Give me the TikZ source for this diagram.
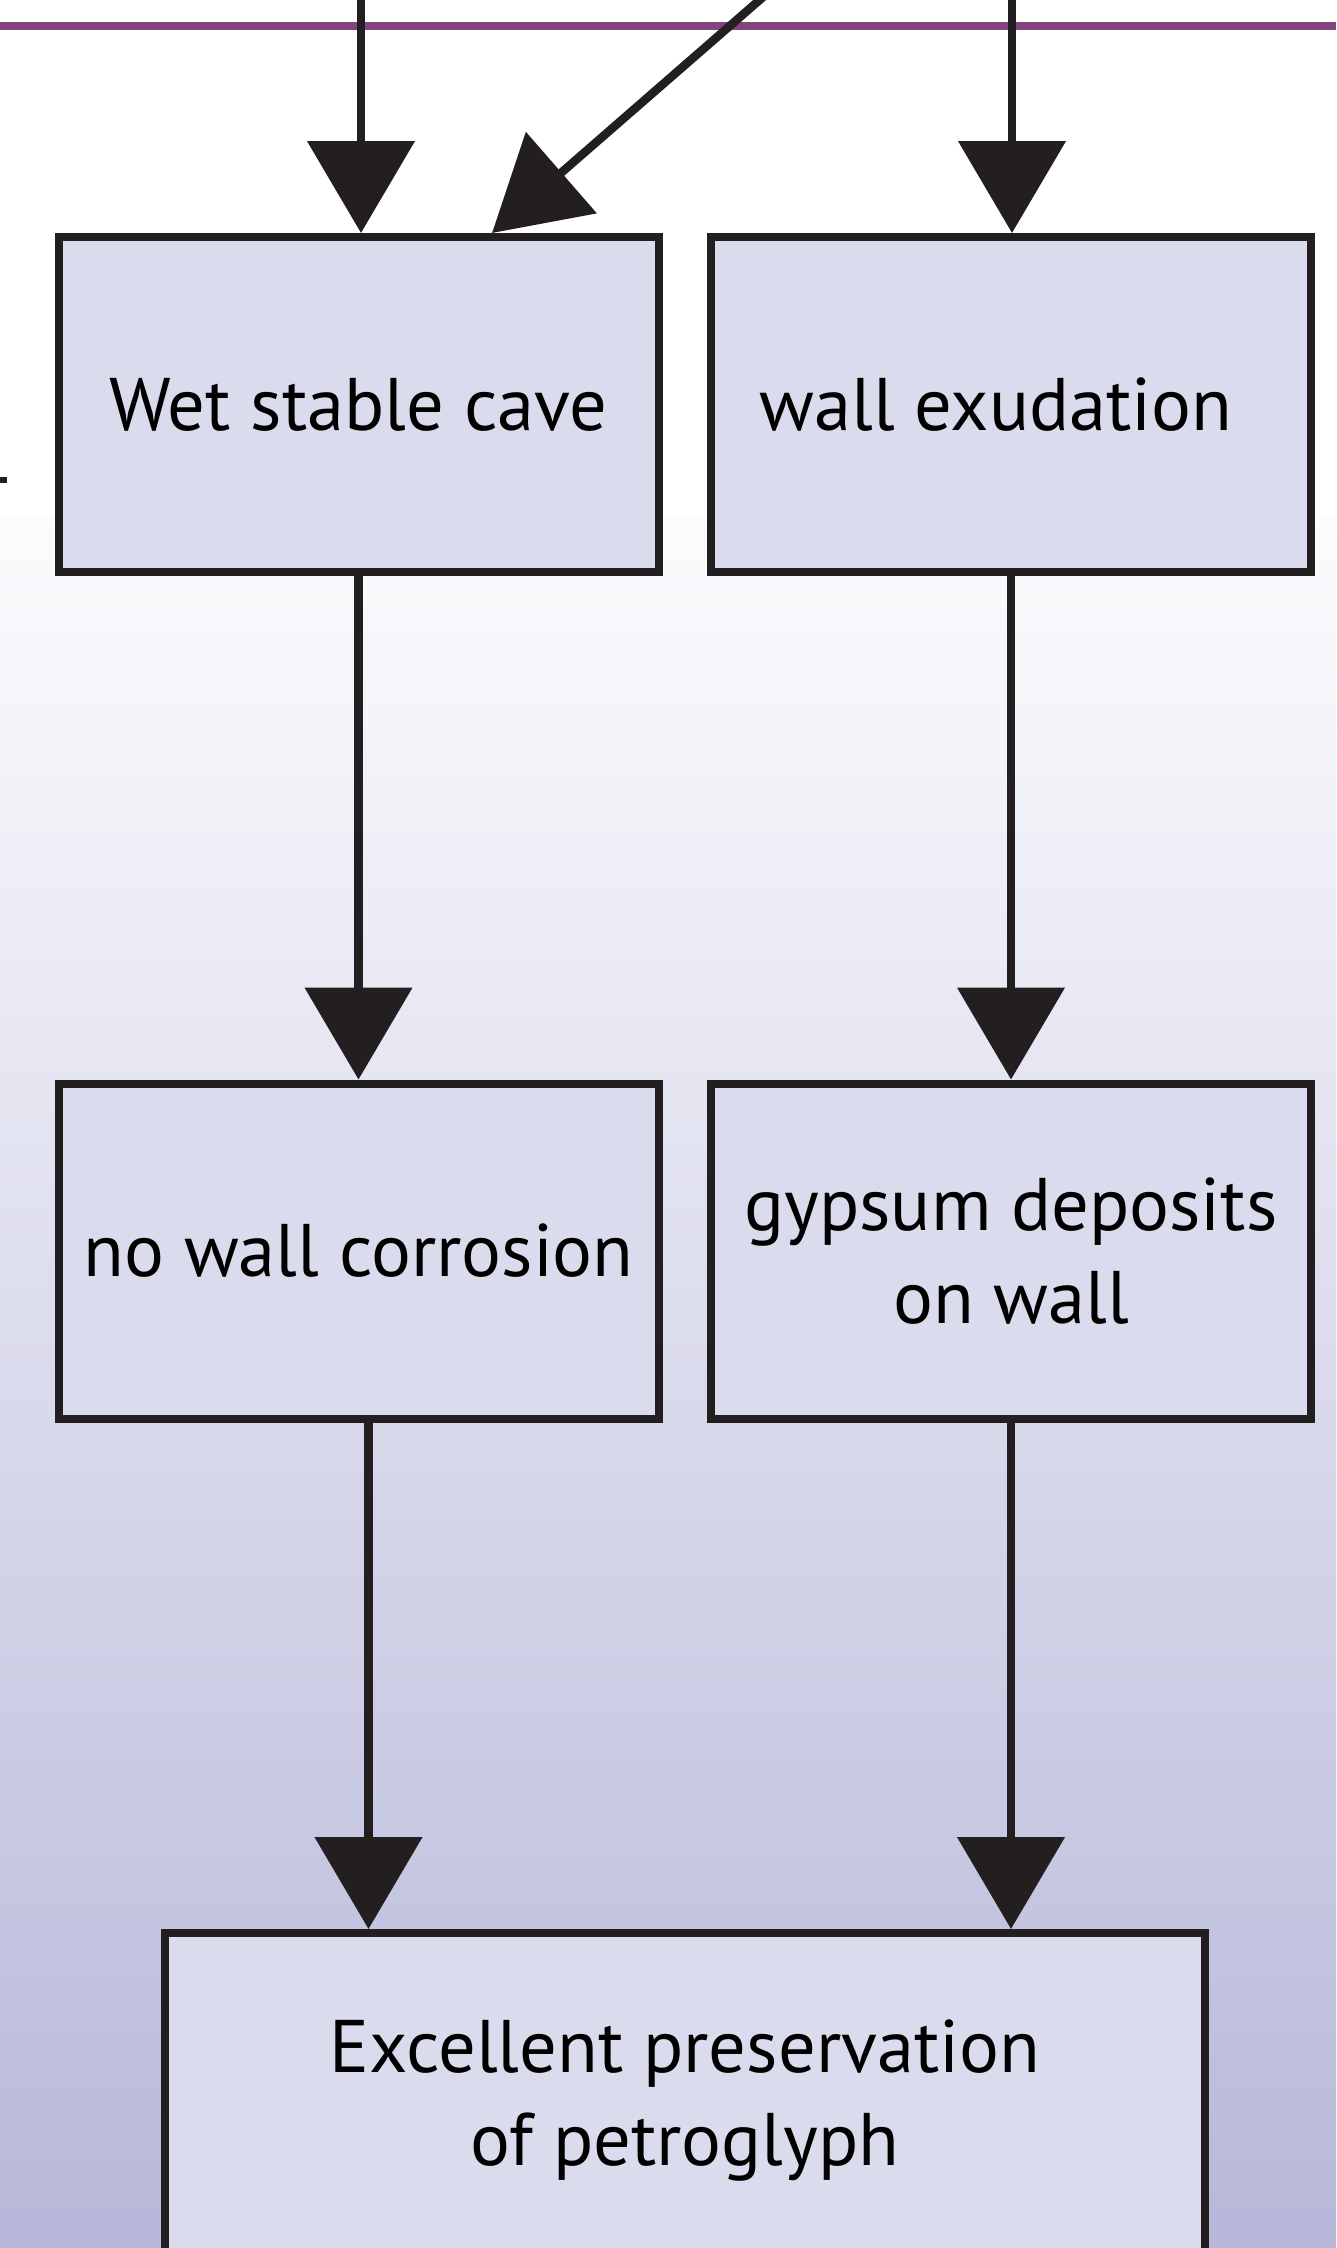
\documentclass[tikz,border=0pt]{standalone}
\usepackage{fontspec}
\setmainfont{PT Sans}
\usetikzlibrary{arrows.meta}
\definecolor{boxfill}{RGB}{218,219,236}
\definecolor{ink}{RGB}{35,31,32}
\definecolor{plum}{RGB}{131,69,124}
\definecolor{bgtop}{RGB}{252,252,254}
\definecolor{bgbot}{RGB}{183,184,217}
\begin{document}
\begin{tikzpicture}[>={Triangle[width=1.06cm,length=0.92cm]},
    font=\fontsize{21.2}{26.5}\selectfont,
    box/.style={draw=ink,fill=boxfill,line width=0.08cm,minimum width=6cm,
      minimum height=3.35cm,align=center,inner sep=0pt},
    flow/.style={->,draw=ink,fill=ink,line width=0.085cm}]
    \useasboundingbox (0,0) rectangle (13.36,-22.48);
    \clip (0,0) rectangle (13.36,-22.48);
    % background
    \shade[top color=bgtop,bottom color=bgbot] (0,-5.17) rectangle (13.36,-22.48);
    \draw[plum,line width=0.08cm] (0,-0.26)--(13.36,-0.26);
    \fill[ink] (0,-4.77) rectangle (0.07,-4.83);
    % boxes
    \node[box] (wet) at (3.585,-4.045) {Wet stable cave};
    \node[box] (exud) at (10.11,-4.045) {wall exudation\hspace*{0.3cm}};
    \node[box] (nocorr) at (3.585,-12.51) {no wall corrosion};
    \node[box] (gypsum) at (10.11,-12.51) {gypsum deposits\\on wall};
    \node[box,minimum width=10.4cm] (preserve) at (6.85,-21.005)
      {Excellent preservation\\of petroglyph};
    % incoming from above
    \coordinate (srcA) at (3.61,0.5);
    \coordinate (srcB) at (10.12,0.5);
    \coordinate (srcC) at (8.17,0.5);
    \coordinate (outA) at ([xshift=1mm]nocorr.south);
    \draw[flow] (srcA) -- (srcA |- wet.north);
    \draw[flow] (srcC) -- ([xshift=1.335cm]wet.north);
    \draw[flow] (srcB) -- (srcB |- exud.north);
    % flow down
    \draw[flow] (wet) -- (nocorr);
    \draw[flow] (exud) -- (gypsum);
    \draw[flow] (outA) -- (outA |- preserve.north);
    \draw[flow] (gypsum.south) -- (gypsum.south |- preserve.north);
\end{tikzpicture}
\end{document}
